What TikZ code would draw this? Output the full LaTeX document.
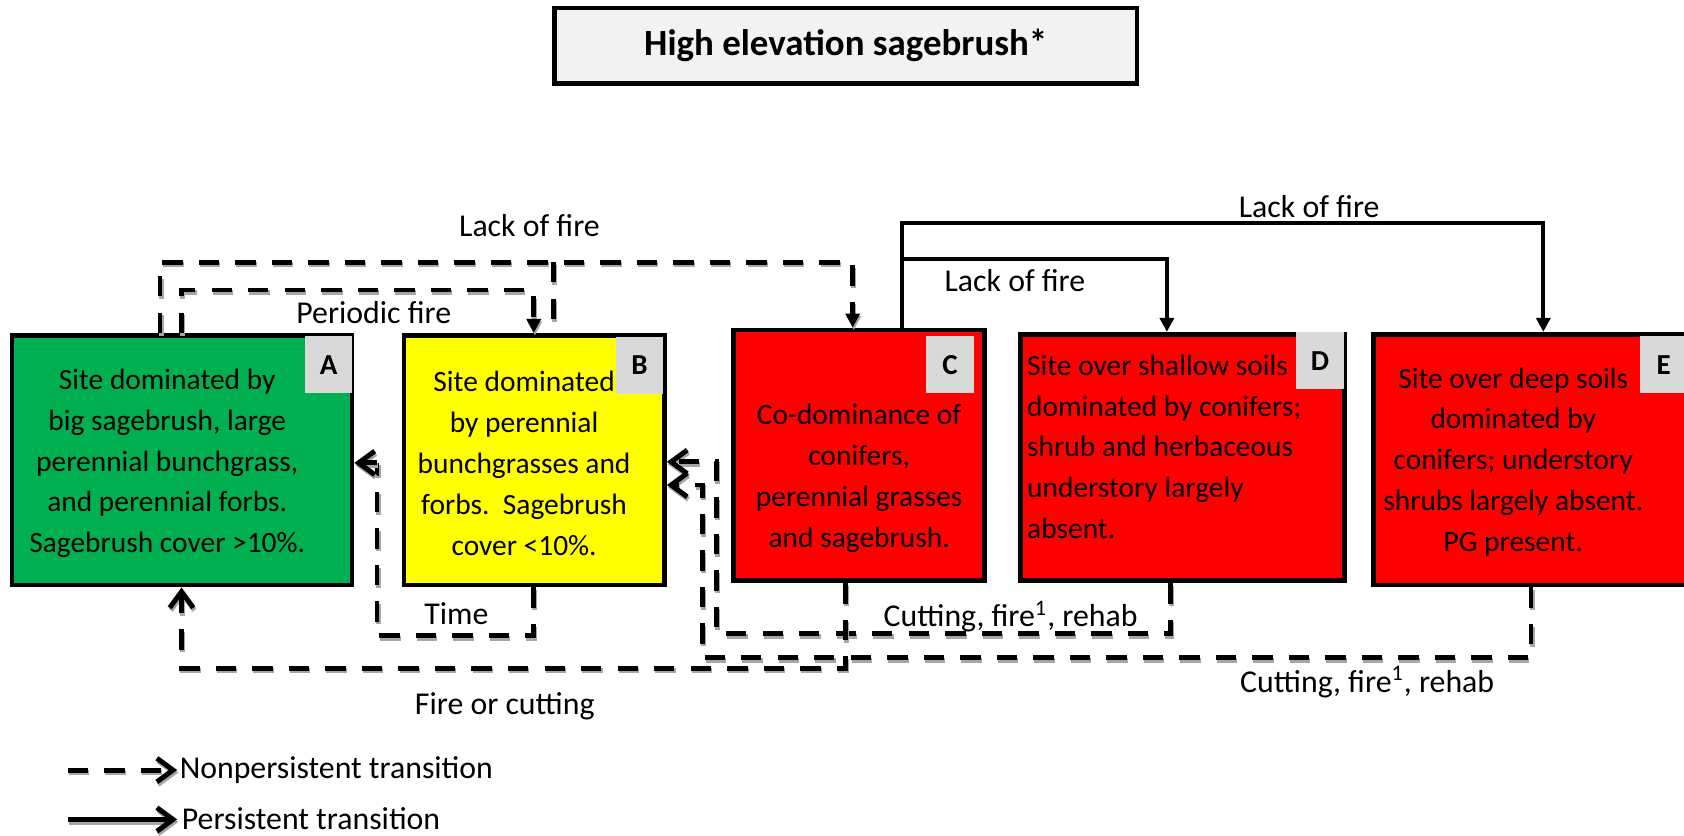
\documentclass[tikz,border=0pt]{standalone}
\usepackage{fontspec}
\setmainfont{Carlito}
\usetikzlibrary{arrows.meta}
\definecolor{agreen}{HTML}{00B050}
\definecolor{ayellow}{HTML}{FFFF00}
\definecolor{ared}{HTML}{FF0000}
\definecolor{tgray}{HTML}{F2F2F2}
\definecolor{lgray}{HTML}{D9D9D9}
\definecolor{shadowgray}{HTML}{A6A6A6}
\begin{document}
\begin{tikzpicture}[x=0.5pt,y=-0.5pt,
  box/.style={draw=black, line width=2.2pt, rectangle, inner sep=0pt},
  boxtext/.style={font=\fontsize{13.7pt}{19pt}\selectfont, align=center, inner sep=0pt},
  tag/.style={fill=lgray, minimum width=22pt, minimum height=26.5pt, inner sep=0pt, font=\fontsize{13.5pt}{16pt}\selectfont\bfseries},
  lbl/.style={font=\fontsize{14.8pt}{18pt}\selectfont, inner sep=0pt},
  dshadow/.style={preaction={draw=shadowgray, line width=2.3pt, dash pattern=on 9.5pt off 7.5pt, dash phase=#1,
      transform canvas={xshift=0.5pt,yshift=-1.2pt}}},
  sshadow/.style={preaction={draw=shadowgray, line width=2.3pt, solid,
      transform canvas={xshift=0.5pt,yshift=-1.2pt}}},
  nonpers/.style={dshadow=#1, draw=black, line width=2.3pt, dash pattern=on 9.5pt off 7.5pt, dash phase=#1},
  nonpers/.default=0pt,
  stub/.style={sshadow, draw=black, line width=2.3pt},
  pers/.style={line width=1.9pt},
  fillhead/.style={-{Triangle[width=6.5pt,length=6.5pt]}},
  barbhead/.style={-{Straight Barb[length=7.5pt,width=11pt]}},
]
\useasboundingbox (0,0) rectangle (1568,778);

% title
\node[draw=black, line width=2pt, fill=tgray, minimum width=271.3pt, minimum height=35.3pt,
      inner sep=0pt, font=\fontsize{17.2pt}{20pt}\selectfont\bfseries] (T) at (787.5,42.5) {High elevation sagebrush*};

% state boxes
\node[box, fill=agreen, minimum width=158.3pt, minimum height=116.3pt] (A) at (169.5,428.5) {};
\node[box, fill=ayellow, minimum width=121.3pt, minimum height=116.3pt] (B) at (497.5,428.5) {};
\node[box, fill=ared, minimum width=116.8pt, minimum height=116.8pt] (C) at (800,424) {};
\node[box, fill=ared, minimum width=150.8pt, minimum height=114.8pt] (D) at (1101,426) {};
\node[box, fill=ared, minimum width=154.3pt, minimum height=116.8pt] (E) at (1433.5,428) {};

% tags
\node[tag] (Atag) at (306,339.5) {A};
\node[tag] (Btag) at (595.5,340) {B};
\node[tag] (Ctag) at (884.5,339.5) {C};
\node[tag] (Dtag) at (1229,336) {D};
\node[tag] (Etag) at (1549,339.5) {E};

% box texts
\node[boxtext] (Atext) at (155.7,431.5) {Site dominated by\\big sagebrush, large\\perennial bunchgrass,\\and perennial forbs.\\Sagebrush cover >10\%.};
\node[boxtext] (Btext) at (488,431.5) {Site dominated\\by perennial\\bunchgrasses and\\forbs.~~Sagebrush\\cover <10\%.};
\node[boxtext] (Ctext) at (800,445.5) {Co-dominance of\\conifers,\\perennial grasses\\and sagebrush.};
\node[boxtext, align=left, anchor=west] (Dtext) at (956,416) {Site over shallow soils\\dominated by conifers;\\shrub and herbaceous\\understory largely\\absent.};
\node[boxtext] (Etext) at (1409,430) {Site over deep soils\\dominated by\\conifers; understory\\shrubs largely absent.\\PG present.};

% waypoints
\coordinate (pf1) at (169,270);  \coordinate (pf2) at (497,270);
\coordinate (lf1) at (149,244);  \coordinate (lf2) at (794,244);
\coordinate (bc1) at (515,244);
\coordinate (t1) at (497,592);   \coordinate (t2) at (351,592);   \coordinate (t3) at (351,431);
\coordinate (d1) at (1090,590);  \coordinate (d2) at (667,590);   \coordinate (d3) at (667,430);
\coordinate (e1) at (1425.5,612.5); \coordinate (e2) at (654,612.5); \coordinate (e3) at (654,451.6);
\coordinate (ca1) at (787,622);  \coordinate (ca2) at (169,622);
\coordinate (s1) at (840,207.5); \coordinate (s2) at (1437,207.5);
\coordinate (s3) at (840,241);   \coordinate (s4) at (1086.5,241);

% nonpersistent transitions
\draw[nonpers, fillhead] (A.north -| lf1) -- (lf1) -- (lf2) -- (C.north -| lf2);
\draw[nonpers] (bc1) -- (B.north -| bc1);
\draw[nonpers, fillhead] (A.north -| pf1) -- (pf1) -- (pf2) -- (B.north -| pf2);
\draw[nonpers] (B.south -| t1) -- (t1) -- (t2) -- (t3);
\draw[stub, barbhead] (t3) -- (A.east |- t3);
\draw[nonpers, barbhead] (D.south -| d1) -- (d1) -- (d2) -- (d3) -- (B.east |- d3);
\draw[nonpers, barbhead] (E.south -| e1) -- (e1) -- (e2) -- (e3) -- (B.east |- e3);
\draw[nonpers, barbhead] (C.south -| ca1) -- (ca1) -- (ca2) -- (A.south -| ca2);

% persistent transitions
\draw[pers, fillhead] (C.north -| s1) -- (s1) -- (s2) -- (E.north -| s2);
\draw[pers, fillhead] (s3) -- (s4) -- (D.north -| s4);

% connector labels
\node[lbl] (l1) at (493,210) {Lack of fire};
\node[lbl] (l2) at (348,291) {Periodic fire};
\node[lbl] (l3) at (1219,192.5) {Lack of fire};
\node[lbl] (l4) at (945,261) {Lack of fire};
\node[lbl] (l5) at (425,571) {Time};
\node[lbl] (l6) at (941,574) {Cutting, fire\textsuperscript{1}, rehab};
\node[lbl] (l7) at (1273,635) {Cutting, fire\textsuperscript{1}, rehab};
\node[lbl] (l8) at (470,658) {Fire or cutting};

% legend
\coordinate (L1a) at (63,717); \coordinate (L1b) at (165,717);
\coordinate (L2a) at (63,763); \coordinate (L2b) at (165,763);
\draw[nonpers, barbhead] (L1a) -- (L1b);
\draw[stub, barbhead] (L2a) -- (L2b);
\node[lbl, anchor=west] (L1t) at (167,717) {Nonpersistent transition};
\node[lbl, anchor=west] (L2t) at (169,762) {Persistent transition};
\end{tikzpicture}
\end{document}
